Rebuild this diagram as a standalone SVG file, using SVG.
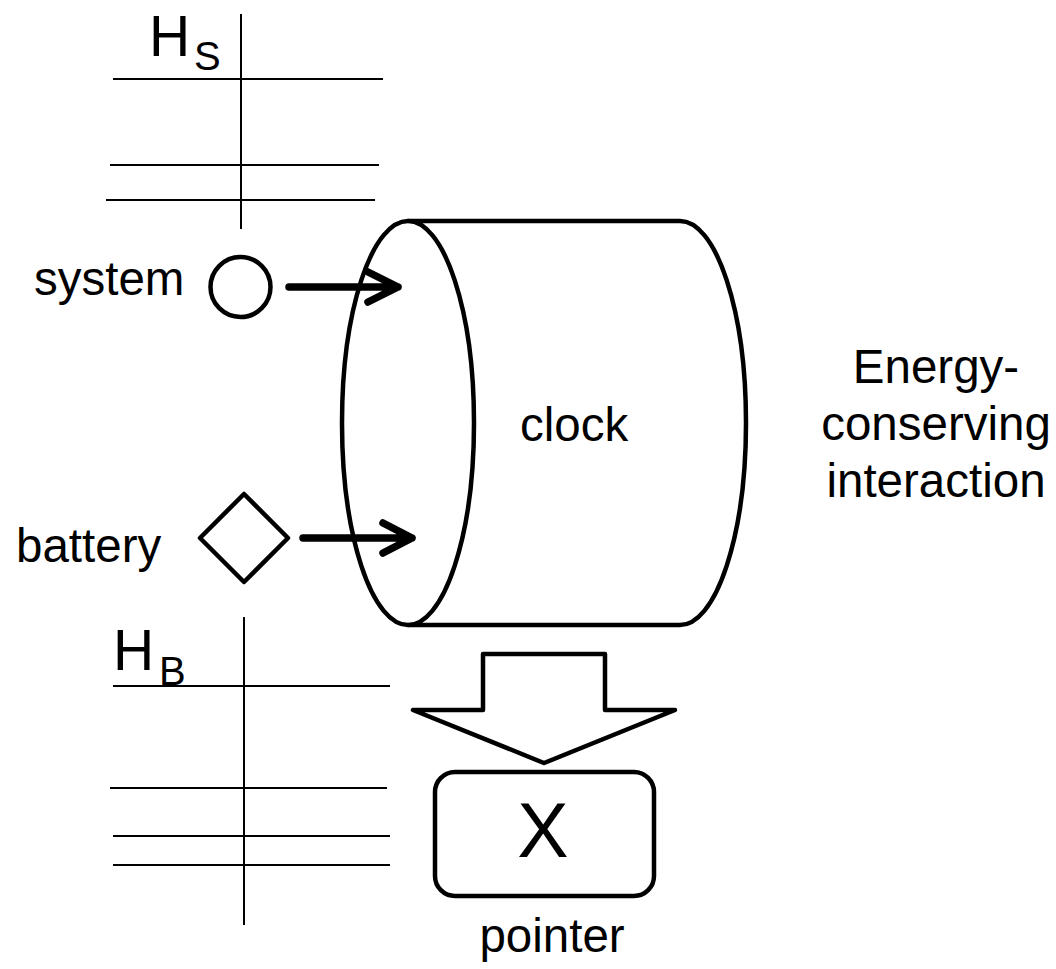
<svg xmlns="http://www.w3.org/2000/svg" width="1056" height="969" viewBox="0 0 1056 969">
<style>
  .lvl { stroke: #000; stroke-width: 2; fill: none; }
  .shape { stroke: #000; stroke-width: 4.5; fill: #fff; stroke-linejoin: round; }
  .arr { stroke: #000; stroke-width: 7.5; fill: none; stroke-linecap: round; stroke-linejoin: round; }
  .lbl { font-family: "Liberation Sans", Arial, sans-serif; font-size: 47.5px; fill: #000; }
  .big { font-size: 57px; }
  .sub { font-size: 40px; }
</style>
<rect width="1056" height="969" fill="#fff"/>
<g id="hs">
  <line class="lvl" x1="241" y1="14" x2="241" y2="229"/>
  <line class="lvl" x1="113" y1="79" x2="383" y2="79"/>
  <line class="lvl" x1="110" y1="165" x2="379" y2="165"/>
  <line class="lvl" x1="106" y1="200" x2="375" y2="200"/>
  <text class="lbl big" x="149" y="56">H</text>
  <text class="lbl sub" x="194" y="70">S</text>
</g>
<g id="hb">
  <line class="lvl" x1="244" y1="617" x2="244" y2="925"/>
  <line class="lvl" x1="113" y1="686" x2="390" y2="686"/>
  <line class="lvl" x1="110" y1="788" x2="387" y2="788"/>
  <line class="lvl" x1="113" y1="836" x2="390" y2="836"/>
  <line class="lvl" x1="113" y1="865" x2="390" y2="865"/>
  <text class="lbl big" x="113" y="670">H</text>
  <text class="lbl sub" x="159" y="685">B</text>
</g>
<g id="clock">
  <path class="shape" d="M408 221 L680 221 A66 202 0 0 1 680 625 L408 625 Z"/>
  <ellipse class="shape" cx="408" cy="423" rx="66" ry="202"/>
  <text class="lbl" x="520" y="441">clock</text>
</g>
<g id="system">
  <circle class="shape" cx="240.5" cy="287" r="30"/>
  <text class="lbl" x="34" y="295">system</text>
</g>
<g id="battery">
  <polygon class="shape" points="244,494 288,538 244,582 200,538"/>
  <text class="lbl" x="16" y="562">battery</text>
</g>
<g id="pointer">
  <rect class="shape" x="435" y="772" width="219" height="124" rx="20"/>
  <text class="lbl" x="543" y="857" text-anchor="middle" style="font-size:77px">X</text>
  <text class="lbl" x="552" y="952" text-anchor="middle">pointer</text>
</g>
<g id="interaction-label">
  <text class="lbl" x="936" y="383" text-anchor="middle">Energy-</text>
  <text class="lbl" x="936" y="440" text-anchor="middle">conserving</text>
  <text class="lbl" x="936" y="497" text-anchor="middle">interaction</text>
</g>
<g id="connectors">
  <path class="arr" d="M289 287 L398 287 M368 272 L398 287 L368 302"/>
  <path class="arr" d="M303 538 L412 538 M383 523 L412 538 L383 553"/>
  <polygon class="shape" points="483,654 605,654 605,710 675,710 544,763 413,710 483,710"/>
</g>
</svg>
